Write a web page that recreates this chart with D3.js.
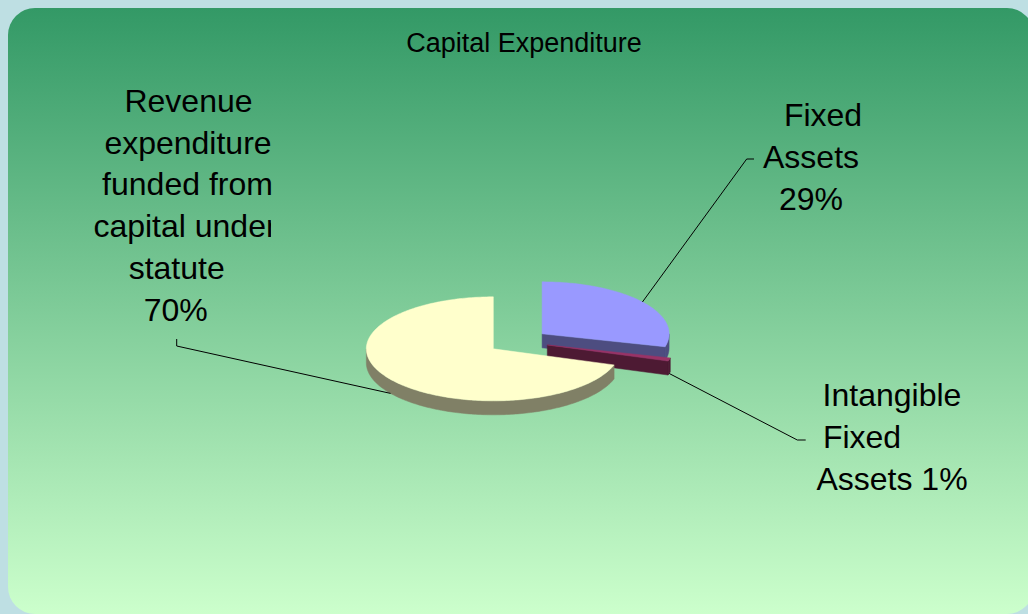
<!DOCTYPE html>
<html>
<head>
<meta charset="utf-8">
<script src="https://cdn.jsdelivr.net/npm/d3@7"></script>
<style>
  html, body { margin: 0; padding: 0; background: #bedfe3; overflow: hidden; }
  text { font-family: "Liberation Sans", Arial, sans-serif; fill: #000; }
</style>
</head>
<body>
<div id="chart"></div>
<script>
// chart data
const chartTitle = "Capital Expenditure";
const categories = ["Fixed Assets", "Intangible Fixed Assets", "Revenue expenditure funded from capital under statute"];
const values = [29, 1, 70];
const sliceColors = ["#9999ff", "#993366", "#ffffcc"];

// ----- layout -----
const width = 1028, height = 614;
const cx = 518, cy = 341.5;        // pie centre
const rx = 127, ry = 52;           // tilted ellipse radii
const depth = 14;                  // thickness of the pie
const explode = 30.5;              // slice offset

// how the words of each label wrap, and where each line goes
const labelLayout = [
  { wrap: [1, 1, 1], xs: [823, 811, 811], y0: 126, elbow: [[746.7, 159], [754, 159]] },
  { wrap: [1, 1, 2], xs: [892, 862, 892], y0: 406, elbow: [[797.3, 440], [805.7, 440]] },
  { wrap: [1, 1, 2, 2, 1, 1], xs: [188.5, 188, 187.5, 185, 176.7, 175.8], y0: 111.7,
    elbow: [[176.7, 346], [176.7, 339]], clip: 271 }
];
const lineStep = 41.8;

const svg = d3.select("#chart").append("svg")
  .attr("width", width)
  .attr("height", height);

// background gradient panel
const defs = svg.append("defs");
const grad = defs.append("linearGradient")
  .attr("id", "bg")
  .attr("x1", 0).attr("y1", 0).attr("x2", 0).attr("y2", 1);
grad.append("stop").attr("offset", "0%").attr("stop-color", "#339966");
grad.append("stop").attr("offset", "100%").attr("stop-color", "#ccffcc");

svg.append("rect")
  .attr("width", width).attr("height", height)
  .attr("fill", "#bedfe3");

svg.append("rect")
  .attr("x", 8).attr("y", 8)
  .attr("width", 1026).attr("height", 606)
  .attr("rx", 27).attr("ry", 27)
  .attr("fill", "url(#bg)");

// title
svg.append("text")
  .attr("x", 524)
  .attr("y", 52)
  .style("font-size", "27px")
  .style("text-anchor", "middle")
  .text(chartTitle);

// ----- 3d pie -----
const pie = d3.pie().sort(null).startAngle(0).endAngle(2 * Math.PI);
const arcs = pie(values);
const total = d3.sum(values);
const pct = d3.format(".0%");
const line = d3.line();

// point on the rim of a slice whose apex is v
function rimPoint(v, a, dy) {
  return [v[0] + rx * Math.sin(a), v[1] - ry * Math.cos(a) + (dy || 0)];
}
function rimPoints(v, a0, a1, dy) {
  const n = Math.max(2, Math.ceil((a1 - a0) / (Math.PI / 180)));
  return d3.range(n + 1).map(i => rimPoint(v, a0 + (a1 - a0) * i / n, dy));
}
function half(c) {
  const r = d3.rgb(c);
  return d3.rgb(r.r * 0.5, r.g * 0.5, r.b * 0.5).formatHex();
}

const slices = arcs.map((d, i) => {
  const mid = (d.startAngle + d.endAngle) / 2;
  const apex = [cx + explode * Math.sin(mid), cy - explode * Math.cos(mid) * (ry / rx)];
  return { d, i, mid, apex };
});

const pieLayer = svg.append("g").attr("class", "pie");

// draw back to front
slices.slice().sort((a, b) => a.apex[1] - b.apex[1]).forEach(s => {
  const a0 = s.d.startAngle, a1 = s.d.endAngle, v = s.apex;
  const top = sliceColors[s.i];
  const side = half(top);
  const g = pieLayer.append("g");

  // cut faces that turn toward the viewer
  if (Math.sin(a1) > 0.001) {
    g.append("path")
      .attr("d", line([v, rimPoint(v, a1), rimPoint(v, a1, depth), [v[0], v[1] + depth]]) + "Z")
      .attr("fill", side).attr("stroke", side).attr("stroke-width", 0.5);
  }
  if (Math.sin(a0) < -0.001) {
    g.append("path")
      .attr("d", line([v, rimPoint(v, a0), rimPoint(v, a0, depth), [v[0], v[1] + depth]]) + "Z")
      .attr("fill", side).attr("stroke", side).attr("stroke-width", 0.5);
  }

  // front part of the outer rim
  const lo = Math.max(a0, Math.PI / 2), hi = Math.min(a1, Math.PI * 1.5);
  if (hi > lo) {
    const pts = rimPoints(v, lo, hi, 0).concat(rimPoints(v, lo, hi, depth).reverse());
    g.append("path")
      .attr("d", line(pts) + "Z")
      .attr("fill", side).attr("stroke", side).attr("stroke-width", 0.5);
  }

  // top face
  g.append("path")
    .attr("d", line([v].concat(rimPoints(v, a0, a1, 0))) + "Z")
    .attr("fill", top).attr("stroke", top).attr("stroke-width", 0.5);
});

// ----- labels + leader lines -----
const labelLayer = svg.append("g").attr("class", "labels");

slices.forEach(s => {
  const lay = labelLayout[s.i];
  const front = Math.cos(s.mid) < 0;
  const anchor = rimPoint(s.apex, s.mid, front ? depth : 0);

  labelLayer.append("path")
    .attr("d", line([anchor].concat(lay.elbow)))
    .attr("fill", "none")
    .attr("stroke", "#000")
    .attr("stroke-width", 1);

  // split words into lines
  const words = (categories[s.i] + " " + pct(values[s.i] / total)).split(" ");
  const lines = [];
  let k = 0;
  lay.wrap.forEach(n => { lines.push(words.slice(k, k + n).join(" ")); k += n; });

  if (lay.clip) {
    defs.append("clipPath").attr("id", "clip" + s.i)
      .append("rect").attr("x", 0).attr("y", 0).attr("width", lay.clip).attr("height", height);
  }
  labelLayer.append("g").selectAll("text")
    .data(lines)
    .enter()
    .append("text")
    .attr("x", (t, j) => lay.xs[j])
    .attr("y", (t, j) => lay.y0 + j * lineStep)
    // the box only cuts the line that overflows it
    .attr("clip-path", t => lay.clip && t.length > 11 ? "url(#clip" + s.i + ")" : null)
    .style("font-size", "32px")
    .style("text-anchor", "middle")
    .text(t => t);
});
</script>
</body>
</html>
